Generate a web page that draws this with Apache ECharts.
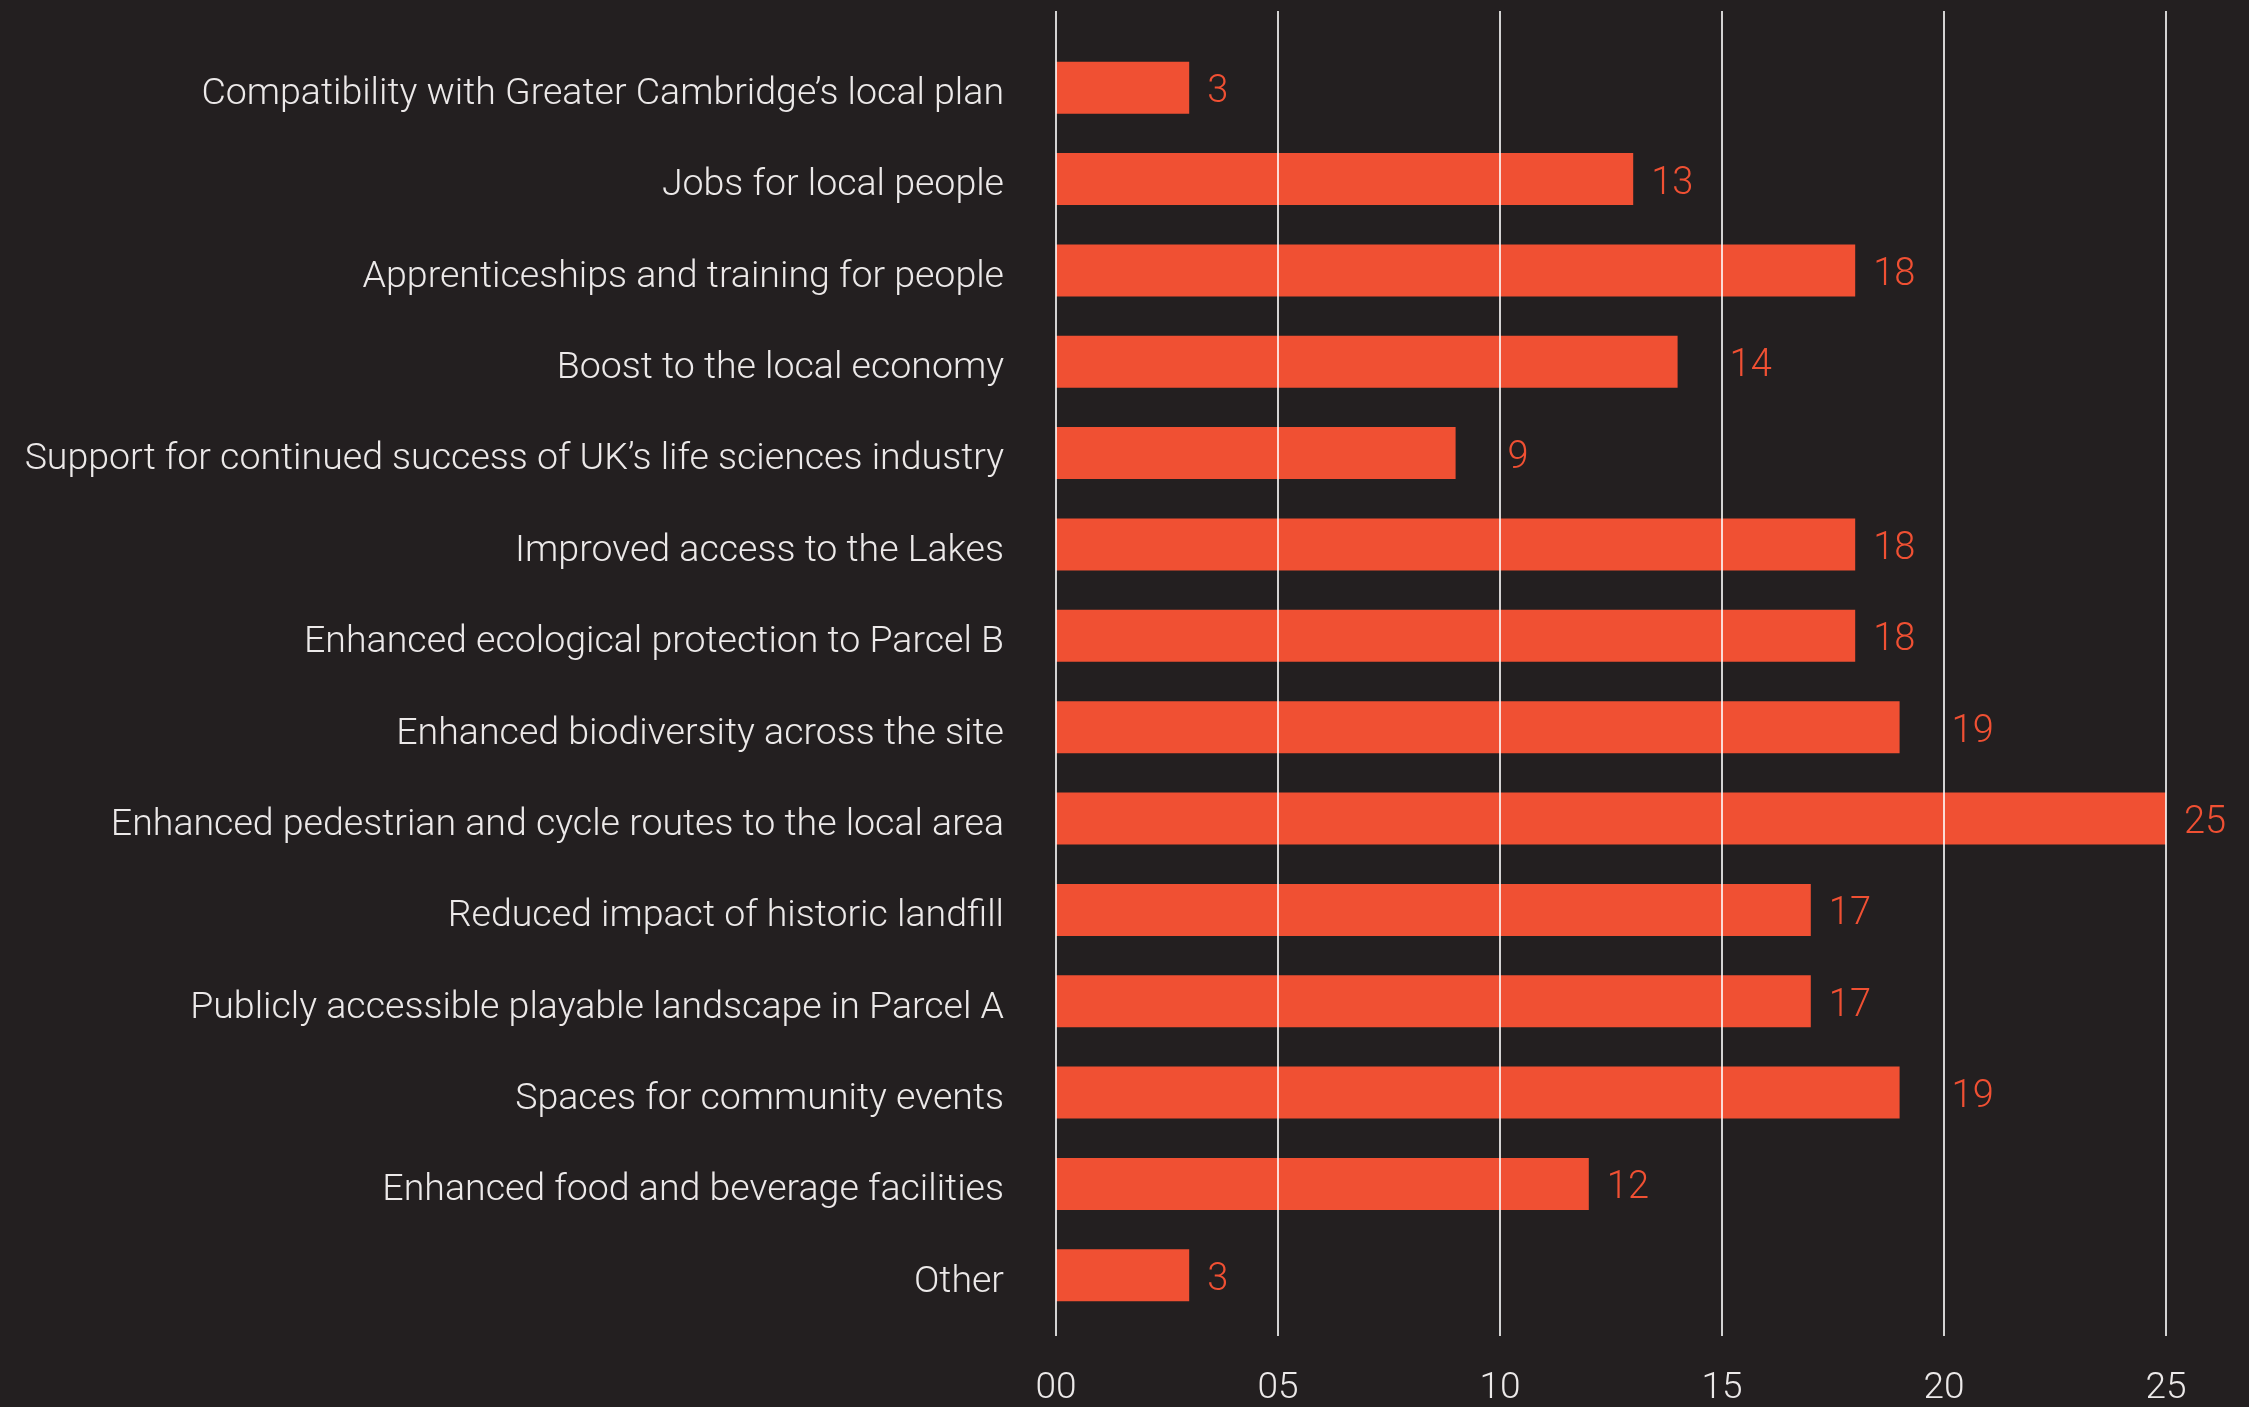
<!DOCTYPE html>
<html>
<head>
<meta charset="utf-8">
<title>Priorities</title>
<script src="https://cdn.jsdelivr.net/npm/echarts@6/dist/echarts.min.js"></script>
<style>
  html, body { margin: 0; padding: 0; background: #231f20; }
  #chart { width: 2249px; height: 1407px; }
</style>
</head>
<body>
<div id="chart"></div>
<script>
// categories, top to bottom
const categories = [
  'Compatibility with Greater Cambridge\u2019s local plan',
  'Jobs for local people',
  'Apprenticeships and training for people',
  'Boost to the local economy',
  'Support for continued success of UK\u2019s life sciences industry',
  'Improved access to the Lakes',
  'Enhanced ecological protection to Parcel B',
  'Enhanced biodiversity across the site',
  'Enhanced pedestrian and cycle routes to the local area',
  'Reduced impact of historic landfill',
  'Publicly accessible playable landscape in Parcel A',
  'Spaces for community events',
  'Enhanced food and beverage facilities',
  'Other'
];
const counts = [3, 13, 18, 14, 9, 18, 18, 19, 25, 17, 17, 19, 12, 3];
const xTicks = [0, 5, 10, 15, 20, 25];

// rows whose value label sits further from the bar end
const farLabelRows = [3, 4, 7, 11];

const orange = '#f05033';
const font = 'Roboto';

const chart = echarts.init(document.getElementById('chart'));

const option = {
  backgroundColor: '#231f20',
  animation: false,
  grid: [
    // grid used only for the vertical grid lines and tick labels
    { left: 1056, right: 83, top: 11, bottom: 61 },
    // grid holding the bars
    { left: 1056, right: 83, top: 42, height: 1279 }
  ],
  xAxis: [
    {
      gridIndex: 0,
      type: 'value',
      min: xTicks[0],
      max: xTicks[xTicks.length - 1],
      interval: 5,
      z: 5,
      axisLine: { show: false },
      axisTick: { show: false },
      splitLine: { show: true, lineStyle: { color: 'rgba(255,255,255,0.8)', width: 2 } },
      axisLabel: {
        color: '#ece9e9',
        fontFamily: font,
        fontWeight: 300,
        fontSize: 37,
        margin: 34,
        formatter: v => String(v).padStart(2, '0')
      }
    },
    {
      gridIndex: 1,
      type: 'value',
      min: xTicks[0],
      max: xTicks[xTicks.length - 1],
      show: false
    }
  ],
  yAxis: [
    {
      gridIndex: 0,
      type: 'value',
      show: false
    },
    {
      gridIndex: 1,
      type: 'category',
      inverse: true,
      data: categories,
      axisLine: { show: false },
      axisTick: { show: false },
      axisLabel: {
        margin: 52,
        formatter: v => '{c|' + v + '}',
        rich: {
          c: {
            color: '#ece9e9',
            fontFamily: font,
            fontWeight: 300,
            fontSize: 37.5,
            padding: [14, 0, 0, 0]
          }
        }
      }
    }
  ],
  series: [
    {
      type: 'bar',
      xAxisIndex: 1,
      yAxisIndex: 1,
      barWidth: 52,
      itemStyle: { color: orange },
      data: counts.map((v, i) => ({
        value: v,
        label: { distance: farLabelRows.includes(i) ? 52 : 18 }
      })),
      label: {
        show: true,
        position: 'right',
        offset: [0, 5],
        color: orange,
        fontFamily: font,
        fontWeight: 300,
        fontSize: 38
      }
    }
  ]
};

chart.setOption(option);
</script>
</body>
</html>
